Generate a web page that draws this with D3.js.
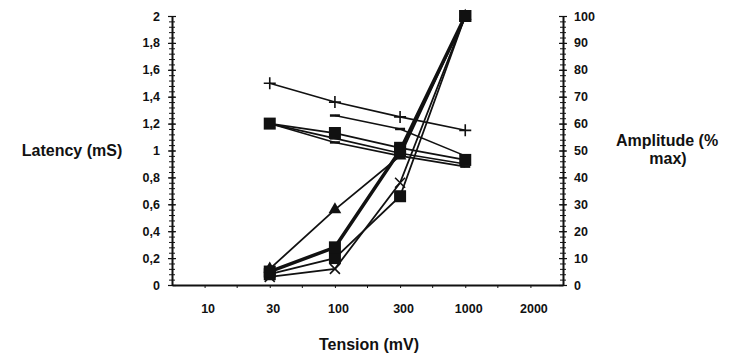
<!DOCTYPE html>
<html>
<head>
<meta charset="utf-8">
<script src="https://cdn.jsdelivr.net/npm/d3@7"></script>
<style>
  body { margin: 0; background: #fff; }
  svg text { font-family: "Liberation Sans", Arial, sans-serif; font-weight: bold; fill: #111; }
  .axis path, .axis line { stroke: #111; }
</style>
</head>
<body>
<div id="chart"></div>
<script>
// x categories (tension, mV) - drawn evenly spaced
var tensions = ["10", "30", "100", "300", "1000", "2000"];

// latency series (left axis, mS)
var latPlus   = [{x: "30", y: 1.5}, {x: "100", y: 1.36}, {x: "300", y: 1.25}, {x: "1000", y: 1.15}];
var latDash   = [{x: "100", y: 1.26}, {x: "300", y: 1.16}, {x: "1000", y: 0.96}];
var latSquare = [{x: "30", y: 1.2}, {x: "100", y: 1.13}, {x: "300", y: 1.02}, {x: "1000", y: 0.93}];
var latB      = [{x: "30", y: 1.2}, {x: "100", y: 1.09}, {x: "300", y: 0.98}, {x: "1000", y: 0.9}];
var latC      = [{x: "30", y: 1.2}, {x: "100", y: 1.06}, {x: "300", y: 0.96}, {x: "1000", y: 0.88}];

// amplitude series (right axis, % max)
var ampTriangle = [{x: "30", y: 6}, {x: "100", y: 28}, {x: "300", y: 48}, {x: "1000", y: 100}];
var ampSquare   = [{x: "30", y: 5}, {x: "100", y: 14}, {x: "300", y: 50}, {x: "1000", y: 100}];
var ampCross    = [{x: "30", y: 3}, {x: "100", y: 6}, {x: "300", y: 38}, {x: "1000", y: 100}];
var ampSquare2  = [{x: "30", y: 4}, {x: "100", y: 10}, {x: "300", y: 33}, {x: "1000", y: 100}];

var leftTicks = [0, 0.2, 0.4, 0.6, 0.8, 1, 1.2, 1.4, 1.6, 1.8, 2];
var rightTicks = [0, 10, 20, 30, 40, 50, 60, 70, 80, 90, 100];

var graphWidth = 730, graphHeight = 355;
var margin = {top: 16, right: 167, bottom: 70, left: 172};
var width = graphWidth - margin.left - margin.right;
var height = graphHeight - margin.top - margin.bottom;

var svg = d3.select("#chart").append("svg")
    .attr("width", graphWidth)
    .attr("height", graphHeight);

var g = svg.append("g")
    .attr("transform", "translate(" + margin.left + "," + margin.top + ")");

var x = d3.scalePoint().domain(tensions).range([0, width]).padding(0.5);
var yL = d3.scaleLinear().domain([0, 2]).range([height, 0]);
var yR = d3.scaleLinear().domain([0, 100]).range([height, 0]);

var fmtComma = function (d) { return String(d).replace(".", ","); };

// minor ticks on left axis
g.append("g")
    .attr("class", "axis")
    .call(d3.axisLeft(yL).tickValues(d3.range(0, 2.001, 0.04)).tickSize(3).tickFormat(""))
    .call(function (s) { s.selectAll(".tick line").attr("x2", 3).attr("x1", -3); s.select(".domain").remove(); });

// left axis
g.append("g")
    .attr("class", "axis")
    .call(d3.axisLeft(yL).tickValues(leftTicks).tickSize(4).tickSizeOuter(0).tickFormat(fmtComma))
    .call(function (s) {
        s.select(".domain").attr("stroke-width", 2);
        s.selectAll(".tick line").attr("x1", 4).attr("stroke-width", 1.2);
        s.selectAll("text").attr("font-size", 12.5).attr("x", -12);
    });

// minor ticks on right axis
g.append("g")
    .attr("class", "axis")
    .attr("transform", "translate(" + width + ",0)")
    .call(d3.axisRight(yR).tickValues(d3.range(0, 100.1, 2)).tickSize(3).tickFormat(""))
    .call(function (s) { s.selectAll(".tick line").attr("x1", -3); s.select(".domain").remove(); });

// right axis
g.append("g")
    .attr("class", "axis")
    .attr("transform", "translate(" + width + ",0)")
    .call(d3.axisRight(yR).tickValues(rightTicks).tickSize(4).tickSizeOuter(0))
    .call(function (s) {
        s.select(".domain").attr("stroke-width", 2);
        s.selectAll(".tick line").attr("x1", -4).attr("stroke-width", 1.2);
        s.selectAll("text").attr("font-size", 12.5).attr("x", 11);
    });

// x axis
var xAxisG = g.append("g")
    .attr("class", "axis")
    .attr("transform", "translate(0," + height + ")")
    .call(d3.axisBottom(x).tickSize(3).tickSizeOuter(0))
    .call(function (s) {
        s.select(".domain").attr("stroke-width", 2);
        s.selectAll("text").attr("font-size", 12.5).attr("y", 19).attr("dx", 3);
    });

// minor ticks between categories
var step = x.step();
xAxisG.selectAll(".minor")
    .data(d3.range(1, tensions.length))
    .enter().append("line")
    .attr("x1", function (d) { return d * step; })
    .attr("x2", function (d) { return d * step; })
    .attr("y1", 0).attr("y2", 3)
    .attr("stroke", "#111");

// axis titles
svg.append("text").attr("x", 72).attr("y", 156).attr("text-anchor", "middle")
    .attr("font-size", 16).text("Latency (mS)");
svg.append("text").attr("x", 667).attr("y", 146).attr("text-anchor", "middle")
    .attr("font-size", 16).text("Amplitude (%");
svg.append("text").attr("x", 668).attr("y", 164).attr("text-anchor", "middle")
    .attr("font-size", 16).text("max)");
svg.append("text").attr("x", 369).attr("y", 350).attr("text-anchor", "middle")
    .attr("font-size", 16).text("Tension (mV)");

// series
function drawSeries(data, yScale, marker, lineWidth) {
    var line = d3.line()
        .x(function (d) { return x(d.x); })
        .y(function (d) { return yScale(d.y); });

    g.append("path")
        .datum(data)
        .attr("fill", "none")
        .attr("stroke", "#111")
        .attr("stroke-width", lineWidth)
        .attr("d", line);

    var pts = g.append("g").selectAll("g")
        .data(data)
        .enter().append("g")
        .attr("transform", function (d) { return "translate(" + x(d.x) + "," + yScale(d.y) + ")"; });

    if (marker === "square") {
        pts.append("rect").attr("x", -6).attr("y", -6).attr("width", 12).attr("height", 12).attr("fill", "#111");
    } else if (marker === "triangle") {
        pts.append("path").attr("d", d3.symbol().type(d3.symbolTriangle).size(70)).attr("fill", "#111");
    } else if (marker === "plus") {
        pts.append("path").attr("d", "M-6,0H6M0,-6V6").attr("stroke", "#111").attr("stroke-width", 1.6);
    } else if (marker === "cross") {
        pts.append("path").attr("d", "M-5,-5L5,5M5,-5L-5,5").attr("stroke", "#111").attr("stroke-width", 1.6);
    } else if (marker === "dash") {
        pts.append("path").attr("d", "M-5,0H5").attr("stroke", "#111").attr("stroke-width", 2.5);
    }
}

drawSeries(latC, yL, "dash", 1.6);
drawSeries(latB, yL, "dash", 1.6);
drawSeries(latDash, yL, "dash", 1.6);
drawSeries(latPlus, yL, "plus", 1.6);
drawSeries(latSquare, yL, "square", 1.8);

drawSeries(ampCross, yR, "cross", 1.8);
drawSeries(ampSquare2, yR, "square", 1.8);
drawSeries(ampTriangle, yR, "triangle", 1.8);
drawSeries(ampSquare, yR, "square", 3.5);
</script>
</body>
</html>
